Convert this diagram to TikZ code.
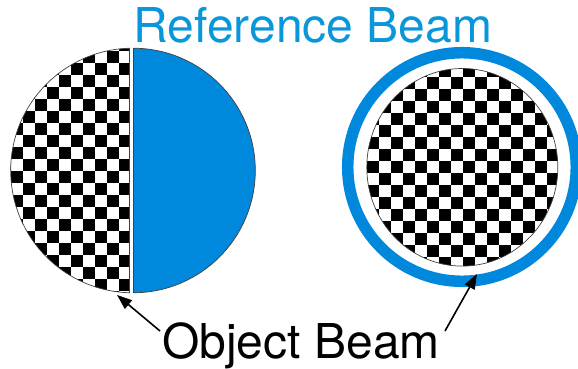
\documentclass[tikz,border=0pt]{standalone}
\usepackage{fontspec}
\setmainfont{TeX Gyre Heros}
\usetikzlibrary{arrows.meta}
\definecolor{beamblue}{HTML}{0088DD}
\definecolor{textblue}{HTML}{0A96DA}
\begin{document}
\begin{tikzpicture}[x=1pt,y=-1pt,
  edge/.style={draw=black!75, line width=0.7pt},
  ptr/.style={-{Triangle[length=15pt,width=11pt]}, line width=1.6pt},
  label/.style={anchor=base, inner sep=0pt, font=\fontsize{48}{48}\selectfont}]
\useasboundingbox (0,0) rectangle (578,369);
% ---- left beam: checker half
\begin{scope}
  \clip (0,0) rectangle (129.5,369);
  \clip (133,170.5) circle[radius=122.3];
  \fill[white] (0,0) rectangle (129.5,369);
  \foreach \x in {-1.3,22.7,...,118.7}
    \foreach \y in {39.3,63.3,...,303.3}
      {\fill (\x,\y) rectangle ++(12,12); \fill (\x+12,\y+12) rectangle ++(12,12);}
\end{scope}
\begin{scope}
  \clip (0,0) rectangle (129.5,369);
  \draw[edge] (133,170.5) circle[radius=122.3];
\end{scope}
\draw[edge] (129.5,48.25) -- (129.5,292.75);
% ---- left beam: reference (blue) half
\begin{scope}
  \clip (133.3,0) rectangle (300,369);
  \fill[beamblue] (133,170.5) circle[radius=122.3];
  \draw[edge] (133,170.5) circle[radius=122.3];
\end{scope}
\draw[edge] (133.3,48.2) -- (133.3,292.8);
% ---- right beam: ring + checker disc
\draw[beamblue, line width=11.5] (462,167) circle[radius=114.3];
\begin{scope}
  \clip (462.3,167.3) ellipse[x radius=95.5, y radius=98.8];
  \fill[white] (300,0) rectangle (578,369);
  \foreach \x in {343,367,...,559}
    \foreach \y in {41,65,...,281}
      {\fill (\x,\y) rectangle ++(12,12); \fill (\x+12,\y+12) rectangle ++(12,12);}
\end{scope}
\draw[edge] (462.3,167.3) ellipse[x radius=95.5, y radius=98.8];
% ---- labels
\node[label, text=textblue] (ref) at (313,42.7) {Reference Beam};
\node[label] (obj) at (301,358.3) {Object Beam};
% ---- pointers
\coordinate (tailL) at (160,331);
\coordinate (tipL) at (117,295);
\coordinate (tailR) at (445,331);
\coordinate (tipR) at (477,274);
\draw[ptr] (tailL) -- (tipL);
\draw[ptr] (tailR) -- (tipR);
\end{tikzpicture}
\end{document}
